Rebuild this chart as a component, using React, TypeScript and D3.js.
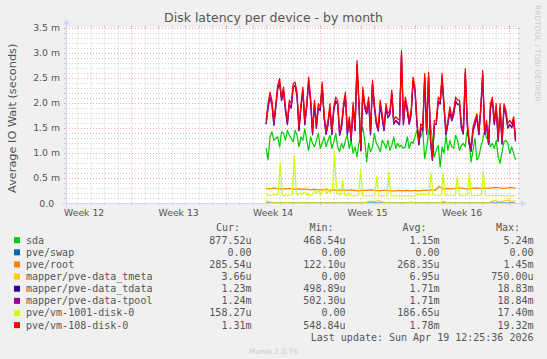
import React, { useEffect } from "react";
import * as d3 from "d3";

const W = 547;
const H = 359;
const X0 = 66;
const X1 = 518;
const Y0 = 203;
const Y1 = 27.5;

// visible window and the span the device data covers
const viewStart = new Date(Date.UTC(2026, 2, 17, 3, 44));
const viewEnd = new Date(Date.UTC(2026, 3, 19, 15, 18));
const dataStart = new Date(Date.UTC(2026, 2, 31, 23, 30));
const dataEnd = new Date(Date.UTC(2026, 3, 19, 11, 0));

const seriesNames = [
  "sda",
  "pve/swap",
  "pve/root",
  "mapper/pve-data_tmeta",
  "mapper/pve-data_tdata",
  "mapper/pve-data-tpool",
  "pve/vm-1001-disk-0",
  "pve/vm-108-disk-0",
];
const seriesColors = ["#00cc00", "#0066b3", "#ff8000", "#ffcc00", "#330099", "#990099", "#ccff00", "#ff0000"];
const curText = ["877.52u", "0.00 ", "285.54u", "3.66u", "1.23m", "1.24m", "158.27u", "1.31m"];
const minText = ["468.54u", "0.00 ", "122.10u", "0.00 ", "498.89u", "502.30u", "0.00 ", "548.84u"];
const avgText = ["1.15m", "0.00 ", "268.35u", "6.95u", "1.71m", "1.71m", "186.65u", "1.78m"];
const maxText = ["5.24m", "0.00 ", "1.45m", "750.00u", "18.83m", "18.84m", "17.40m", "19.32m"];
const yTickLabels = ["0.0  ", "0.5 m", "1.0 m", "1.5 m", "2.0 m", "2.5 m", "3.0 m", "3.5 m"];

// values in milliseconds
const sdaMs = [
  1.09, 0.86, 1.32, 1.42, 1.25, 1.29, 1.32, 1.12, 1.42, 1.39, 1.25, 1.45, 1.35, 1.29, 1.22, 1.45, 1.35, 1.12,
  1.32, 1.25, 1.48, 1.25, 1.05, 1.32, 1.19, 1.12, 1.25, 1.39, 1.09, 1.19, 1.32, 1.12, 1.25, 1.35, 1.09, 1.22,
  1.39, 1.12, 1.02, 1.19, 1.09, 1.25, 1.35, 1.09, 1.25, 0.99, 1.12, 0.92, 1.19, 1.35, 1.52, 1.25, 0.82, 1.19,
  1.02, 1.12, 1.39, 1.19, 1.12, 1.02, 1.25, 1.19, 1.09, 1.25, 1.05, 1.15, 1.32, 1.09, 1.19, 1.12, 1.15, 1.09,
  1.12, 1.32, 1.09, 1.22, 1.19, 1.32, 1.45, 1.35, 1.32, 1.45, 0.89, 1.09, 1.42, 1.58, 1.25, 0.92, 1.05, 1.15,
  0.72, 1.12, 0.99, 1.35, 1.05, 1.25, 1.12, 1.09, 1.35, 1.25, 1.05, 1.15, 1.19, 1.12, 1.45, 1.25, 0.82, 1.05,
  1.29, 0.86, 0.92, 1.12, 1.25, 1.45, 1.29, 1.32, 1.12, 1.19, 1.09, 1.25, 0.92, 0.79, 1.02, 1.22, 1.25, 1.19,
  0.99, 1.12, 0.99, 0.86,
];
const swapMs = [0, 0, 0, 0, 0, 0, 0, 0, 0, 0];
const rootMs = [
  0.29, 0.28, 0.3, 0.28, 0.28, 0.28, 0.29, 0.27, 0.28, 0.27, 0.28, 0.26, 0.27, 0.26, 0.26, 0.27, 0.25, 0.26,
  0.25, 0.26, 0.25, 0.26, 0.25, 0.24, 0.25, 0.25, 0.26, 0.25, 0.24, 0.25, 0.25, 0.24, 0.24, 0.25, 0.24, 0.25,
  0.24, 0.25, 0.24, 0.25, 0.25, 0.26, 0.25, 0.33, 0.28, 0.29, 0.28, 0.29, 0.3, 0.29, 0.28, 0.29, 0.3, 0.29,
  0.3, 0.29, 0.3, 0.31, 0.3, 0.29, 0.3, 0.31, 0.29,
];
const tmetaMs = [
  0.05, 0.02, 0.01, 0, 0, 0.01, 0, 0, 0, 0.01, 0, 0, 0, 0, 0, 0, 0, 0, 0, 0, 0, 0, 0, 0, 0, 0.02, 0.04, 0.03,
  0.05, 0.02, 0.01, 0, 0, 0, 0, 0, 0.02, 0, 0, 0, 0, 0, 0, 0, 0.03, 0.01, 0, 0, 0, 0, 0, 0, 0, 0, 0, 0, 0.03,
  0.05, 0.02, 0.04, 0.06, 0.03, 0.05,
];
const tdataMs = [
  1.57, 1.89, 2.11, 1.97, 1.55, 1.9, 2.27, 2.39, 2.04, 2.23, 1.84, 1.56, 1.97, 1.89, 2.31, 2.34, 2.12, 1.44,
  1.89, 2.24, 1.56, 1.91, 2.43, 2.03, 1.36, 1.97, 1.49, 1.91, 1.84, 2.34, 1.69, 1.37, 1.56, 1.89, 1.36, 1.85,
  2.03, 1.97, 1.35, 1.5, 1.89, 2.13, 1.36, 1.63, 1.24, 1.93, 1.44, 2.75, 1.96, 1.04, 2.23, 1.9, 1.77, 2.03,
  1.36, 2.37, 1.89, 1.57, 1.43, 1.96, 1.69, 1.44, 1.89, 1.7, 1.76, 2.17, 1.57, 1.64, 1.6, 1.56, 2.95, 1.56,
  2.03, 1.83, 1.57, 1.76, 2.43, 2.22, 1.57, 1.16, 1.5, 1.43, 2.49, 1.37, 2.52, 1.23, 0.85, 1.56, 1.57, 2.02,
  1.97, 2.49, 1.9, 1.36, 1.57, 1.83, 1.64, 1.76, 2.03, 1.96, 1.97, 1.49, 1.37, 2.59, 1.56, 1.17, 1.03, 1.44,
  1.56, 1.7, 1.36, 1.84, 2.55, 1.37, 1.56, 1.17, 1.89, 2.03, 1.56, 1.9, 1.23, 1.89, 1.17, 1.9, 1.76, 1.49,
  1.56, 1.5, 1.63, 1.23,
];
const tpoolMs = [
  1.58, 1.9, 2.12, 1.98, 1.56, 1.91, 2.28, 2.4, 2.05, 2.24, 1.85, 1.57, 1.98, 1.9, 2.32, 2.35, 2.13, 1.45,
  1.9, 2.25, 1.57, 1.92, 2.44, 2.04, 1.37, 1.98, 1.5, 1.92, 1.85, 2.35, 1.7, 1.38, 1.57, 1.9, 1.37, 1.86,
  2.04, 1.98, 1.36, 1.51, 1.9, 2.14, 1.37, 1.64, 1.25, 1.94, 1.45, 2.76, 1.97, 1.05, 2.24, 1.91, 1.78, 2.04,
  1.37, 2.38, 1.9, 1.58, 1.44, 1.97, 1.7, 1.45, 1.9, 1.71, 1.77, 2.18, 1.58, 1.65, 1.61, 1.57, 2.96, 1.57,
  2.04, 1.84, 1.58, 1.77, 2.44, 2.23, 1.58, 1.17, 1.51, 1.44, 2.5, 1.38, 2.53, 1.24, 0.86, 1.57, 1.58, 2.03,
  1.98, 2.5, 1.91, 1.37, 1.58, 1.84, 1.65, 1.77, 2.04, 1.97, 1.98, 1.5, 1.38, 2.6, 1.57, 1.18, 1.04, 1.45,
  1.57, 1.71, 1.37, 1.85, 2.56, 1.38, 1.57, 1.18, 1.9, 2.04, 1.57, 1.91, 1.24, 1.9, 1.18, 1.91, 1.77, 1.5,
  1.57, 1.51, 1.64, 1.24,
];
const vm1001Ms = [
  0.17, 0.16, 0.15, 0.16, 0.17, 0.16, 0.18, 0.79, 0.17, 0.15, 0.16, 0.15, 0.16, 0.17, 0.93, 0.18, 0.16, 0.2,
  0.17, 0.22, 0.16, 0.18, 0.15, 0.17, 0.24, 0.19, 0.26, 0.17, 0.22, 0.3, 0.18, 0.25, 0.2, 0.28, 1.02, 0.22,
  0.18, 0.16, 0.45, 0.17, 0.15, 0.2, 0.16, 0.15, 0.14, 0.15, 0.16, 0.66, 0.15, 0.14, 0.15, 0.14, 0.15, 0.14,
  0.15, 0.52, 0.15, 0.14, 0.15, 0.14, 0.15, 0.62, 0.15, 0.14, 0.15, 0.14, 0.14, 0.15, 0.14, 0.15, 0.14, 0.15,
  0.14, 0.14, 0.15, 0.17, 0.18, 0.17, 0.18, 0.17, 0.18, 0.17, 0.6, 0.16, 0.15, 0.16, 0.15, 0.16, 0.58, 0.15,
  0.16, 0.15, 0.16, 0.15, 0.15, 0.52, 0.15, 0.16, 0.15, 0.15, 0.16, 0.58, 0.15, 0.14, 0.15, 0.15, 0.16, 0.15,
  0.62, 0.15, 0.14, 0.15, 0.15, 0.14, 0.15, 0.15, 0.14, 0.15, 0.15, 0.14, 0.15, 0.15, 0.14, 0.15, 0.15,
];
const vm108Ms = [
  1.65, 1.98, 2.21, 2.05, 1.65, 1.98, 2.35, 2.48, 2.11, 2.31, 1.92, 1.65, 2.05, 1.98, 2.38, 2.41, 2.21, 1.52,
  1.98, 2.31, 1.65, 1.98, 2.51, 2.11, 1.45, 2.05, 1.58, 1.98, 1.92, 2.41, 1.78, 1.45, 1.65, 1.98, 1.45, 1.92,
  2.11, 2.05, 1.45, 1.58, 1.98, 2.21, 1.45, 1.72, 1.32, 2.01, 1.52, 2.84, 2.05, 1.12, 2.31, 1.98, 1.85, 2.11,
  1.45, 2.45, 1.98, 1.65, 1.52, 2.05, 1.78, 1.52, 1.98, 1.78, 1.85, 2.25, 1.65, 1.72, 1.68, 1.65, 3.04, 1.65,
  2.11, 1.92, 1.65, 1.85, 2.51, 2.31, 1.65, 1.25, 1.58, 1.52, 2.58, 1.45, 2.61, 1.32, 0.92, 1.65, 1.65, 2.11,
  2.05, 2.58, 1.98, 1.45, 1.65, 1.92, 1.72, 1.85, 2.11, 2.05, 2.05, 1.58, 1.45, 2.68, 1.65, 1.25, 1.12, 1.52,
  1.65, 1.78, 1.45, 1.92, 2.64, 1.45, 1.65, 1.25, 1.98, 2.11, 1.65, 1.98, 1.32, 1.98, 1.25, 1.98, 1.85, 1.58,
  1.65, 1.58, 1.72, 1.32,
];

const allSeries = [sdaMs, swapMs, rootMs, tmetaMs, tdataMs, tpoolMs, vm1001Ms, vm108Ms];

const SANS = "'DejaVu Sans', sans-serif";
const MONO = "'DejaVu Sans Mono', monospace";
const FONT_COL = "#555555";
const AXIS_COL = "#cfd6f8";
const GRID_COL = "rgba(170,170,170,0.55)";
const MGRID_COL = "rgba(240,110,110,0.6)";

export default function App() {
  useEffect(() => {
    document.body.style.margin = "0";
    document.body.style.background = "#f0f0f0";
  }, []);

  const x = d3.scaleTime().domain([viewStart, viewEnd]).range([X0, X1]);
  const y = d3.scaleLinear().domain([0, 3.5]).range([Y0, Y1]);

  const majorY = y.ticks(7);
  const minorY = y.ticks(35).filter((v) => Math.abs(v * 2 - Math.round(v * 2)) > 1e-6);
  const sundays = d3.utcSunday.range(viewStart, viewEnd);
  const dayLines = d3.utcDay.range(viewStart, viewEnd).filter((d) => d.getUTCDay() !== 0);
  const weekFmt = d3.utcFormat("Week %V");
  const weekLabels = d3.utcSunday
    .range(d3.utcDay.offset(viewStart, -7), viewEnd)
    .map((d) => new Date(+d + 3.5 * 864e5))
    .filter((d) => d >= viewStart && d <= viewEnd);

  const t0 = +dataStart;
  const span = +dataEnd - t0;
  const lineFor = (vals: number[]) =>
    d3
      .line<number>()
      .x((_, i) => x(new Date(t0 + (span * i) / (vals.length - 1))))
      .y((v) => y(v))(vals) || "";

  const px = (v: number) => Math.round(v) + 0.5;
  const rowY = (i: number) => 243.7 + i * 12.13;

  return (
    <svg width={W} height={H} style={{ display: "block", background: "#f0f0f0" }}>
      <rect x={0} y={0} width={W} height={H} fill="#f0f0f0" />
      <rect x={X0} y={Y1} width={X1 - X0} height={Y0 - Y1} fill="#ffffff" />

      <text x={W / 2} y={22} textAnchor="middle" fontFamily={SANS} fontSize={12.5} fill={FONT_COL}>
        Disk latency per device - by month
      </text>
      <text
        transform={`translate(16, ${(Y0 + Y1) / 2 + 3}) rotate(-90)`}
        textAnchor="middle"
        fontFamily={SANS}
        fontSize={11.3}
        fill={FONT_COL}
      >
        Average IO Wait (seconds)
      </text>
      <text transform="translate(535, 5) rotate(90)" fontFamily={SANS} fontSize={7.5} fill="#cccccc">
        RRDTOOL / TOBI OETIKER
      </text>

      {/* minor grid */}
      <g stroke={GRID_COL} strokeWidth={1}>
        {minorY.map((v) => (
          <g key={"my" + v}>
            <line x1={X0 - 2} x2={X0} y1={px(y(v))} y2={px(y(v))} />
            <line x1={X1} x2={X1 + 2} y1={px(y(v))} y2={px(y(v))} />
            <line x1={X0} x2={X1} y1={px(y(v))} y2={px(y(v))} strokeDasharray="1,2" />
          </g>
        ))}
        {dayLines.map((d) => (
          <g key={"dx" + +d}>
            <line x1={px(x(d))} x2={px(x(d))} y1={Y0} y2={Y0 + 2} />
            <line x1={px(x(d))} x2={px(x(d))} y1={Y1 - 2} y2={Y1} />
            <line x1={px(x(d))} x2={px(x(d))} y1={Y1} y2={Y0} strokeDasharray="1,2" />
          </g>
        ))}
      </g>
      {/* major grid */}
      <g stroke={MGRID_COL} strokeWidth={1}>
        {majorY.map((v) => (
          <g key={"My" + v}>
            <line x1={X0 - 2} x2={X0} y1={px(y(v))} y2={px(y(v))} />
            <line x1={X1} x2={X1 + 2} y1={px(y(v))} y2={px(y(v))} />
            <line x1={X0} x2={X1} y1={px(y(v))} y2={px(y(v))} strokeDasharray="1,2" />
          </g>
        ))}
        {sundays.map((d) => (
          <g key={"wx" + +d}>
            <line x1={px(x(d))} x2={px(x(d))} y1={Y0} y2={Y0 + 2} />
            <line x1={px(x(d))} x2={px(x(d))} y1={Y1 - 2} y2={Y1} />
            <line x1={px(x(d))} x2={px(x(d))} y1={Y1} y2={Y0} strokeDasharray="1,2" />
          </g>
        ))}
      </g>

      {/* y tick labels */}
      {majorY.map((v, i) => (
        <text
          key={"yl" + v}
          x={60}
          y={y(v) + 3.5}
          textAnchor="end"
          fontFamily={SANS}
          fontSize={9.3}
          fill={FONT_COL}
          style={{ whiteSpace: "pre" }}
        >
          {yTickLabels[i]}
        </text>
      ))}
      {/* x tick labels */}
      {weekLabels.map((d) => (
        <text key={"xl" + +d} x={x(d)} y={216} textAnchor="middle" fontFamily={SANS} fontSize={9.3} fill={FONT_COL}>
          {weekFmt(d)}
        </text>
      ))}

      {/* data */}
      <g fill="none" strokeWidth={1.2} strokeLinejoin="round">
        {allSeries.map((vals, i) => (
          <path key={"s" + i} d={lineFor(vals)} stroke={seriesColors[i]} />
        ))}
      </g>

      {/* axes with arrows */}
      <g stroke={AXIS_COL} strokeWidth={1}>
        <line x1={X0 - 4} x2={X1 + 4} y1={px(Y0)} y2={px(Y0)} />
        <line x1={px(X0)} x2={px(X0)} y1={Y0 + 4} y2={Y1 - 4} />
      </g>
      <path d={`M${X1 + 3},${Y0 - 3} L${X1 + 3},${Y0 + 4} L${X1 + 8},${Y0 + 0.5} Z`} fill={AXIS_COL} />
      <path d={`M${X0 - 3},${Y1 - 3} L${X0 + 4},${Y1 - 3} L${X0 + 0.5},${Y1 - 8} Z`} fill={AXIS_COL} />

      {/* legend */}
      <g fontFamily={MONO} fontSize={10} fill={FONT_COL} style={{ whiteSpace: "pre" }}>
        <text x={240} y={231} textAnchor="end">Cur:</text>
        <text x={333.5} y={231} textAnchor="end">Min:</text>
        <text x={426.5} y={231} textAnchor="end">Avg:</text>
        <text x={520} y={231} textAnchor="end">Max:</text>
        {seriesNames.map((name, i) => (
          <g key={"lg" + i}>
            <rect x={14} y={rowY(i) - 6.5} width={6} height={6} fill={seriesColors[i]} />
            <text x={26} y={rowY(i)}>{name}</text>
            <text x={251.5} y={rowY(i)} textAnchor="end">{curText[i]}</text>
            <text x={345.5} y={rowY(i)} textAnchor="end">{minText[i]}</text>
            <text x={439.5} y={rowY(i)} textAnchor="end">{avgText[i]}</text>
            <text x={533.5} y={rowY(i)} textAnchor="end">{maxText[i]}</text>
          </g>
        ))}
        <text x={533.5} y={341} textAnchor="end">Last update: Sun Apr 19 12:25:36 2026</text>
      </g>
      <text x={W / 2} y={354} textAnchor="middle" fontFamily={SANS} fontSize={7.5} fill="#cccccc">
        Munin 2.0.76
      </text>
    </svg>
  );
}
